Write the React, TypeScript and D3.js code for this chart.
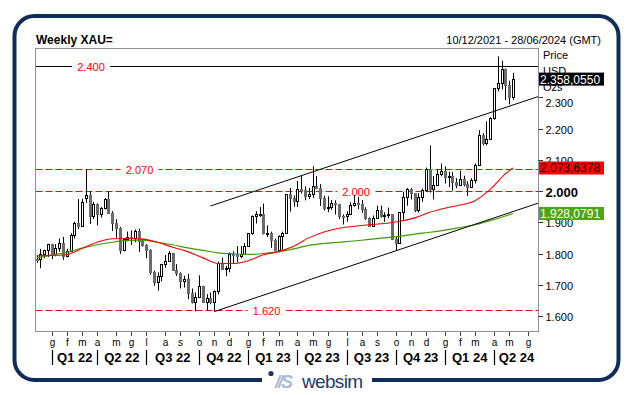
import * as d3 from "d3";
import { useEffect, useRef } from "react";

// weekly bars, one per Friday, from 10/12/2021; data stops at 10/05/2024
const firstWeek = new Date(2021, 11, 10);
const lastWeek = new Date(2024, 5, 28);

const opens = [
  1783, 1782, 1798, 1810, 1829, 1797, 1817, 1835, 1791, 1808,
  1859, 1898, 1889, 1977, 1986, 1921, 1958, 1925, 1945, 1975,
  1931, 1897, 1883, 1811, 1846, 1853, 1851, 1871, 1839, 1827,
  1811, 1742, 1708, 1727, 1766, 1775, 1802, 1747, 1737, 1712,
  1717, 1675, 1644, 1661, 1695, 1644, 1657, 1645, 1681, 1771,
  1751, 1755, 1798, 1797, 1793, 1798, 1824, 1865, 1920, 1926,
  1928, 1865, 1865, 1842, 1811, 1855, 1867, 1989, 1978, 1969,
  2008, 2004, 1983, 1990, 2017, 2011, 1977, 1946, 1948, 1961,
  1958, 1921, 1919, 1925, 1955, 1962, 1959, 1943, 1914, 1889,
  1915, 1940, 1919, 1924, 1925, 1848, 1833, 1932, 1981, 2006,
  1993, 1940, 1981, 2002, 2072, 2005, 2019, 2053, 2063, 2045,
  2049, 2029, 2018, 2040, 2024, 2013, 2035, 2083, 2178, 2155,
  2165, 2233, 2329, 2344, 2391, 2338, 2301,
];
const highs = [
  1793, 1815, 1812, 1831, 1831, 1830, 1848, 1853, 1815, 1865,
  1902, 1974, 1975, 2070, 1999, 1966, 1960, 1949, 1978, 1998,
  1935, 1910, 1885, 1849, 1870, 1874, 1877, 1879, 1847, 1830,
  1814, 1745, 1740, 1767, 1795, 1808, 1802, 1766, 1740, 1729,
  1735, 1688, 1675, 1730, 1697, 1670, 1675, 1682, 1774, 1787,
  1760, 1804, 1807, 1824, 1824, 1833, 1865, 1922, 1935, 1949,
  1960, 1890, 1870, 1848, 1858, 1870, 1990, 2010, 1986, 2032,
  2049, 2015, 2010, 2079, 2048, 2022, 1985, 1983, 1971, 1970,
  1959, 1925, 1935, 1964, 1987, 1982, 1971, 1948, 1916, 1922,
  1953, 1953, 1932, 1947, 1925, 1854, 1933, 1997, 2009, 2010,
  1993, 1993, 2008, 2075, 2146, 2048, 2070, 2088, 2079, 2062,
  2061, 2041, 2065, 2049, 2031, 2041, 2088, 2195, 2185, 2223,
  2236, 2330, 2431, 2417, 2392, 2353, 2378,
];
const lows = [
  1770, 1753, 1785, 1789, 1782, 1791, 1806, 1780, 1788, 1807,
  1848, 1878, 1888, 1962, 1895, 1910, 1890, 1915, 1941, 1931,
  1872, 1850, 1799, 1807, 1839, 1828, 1836, 1805, 1822, 1785,
  1732, 1697, 1681, 1711, 1754, 1773, 1745, 1728, 1688, 1691,
  1654, 1640, 1615, 1660, 1642, 1618, 1638, 1616, 1669, 1747,
  1728, 1740, 1766, 1773, 1785, 1797, 1824, 1860, 1896, 1917,
  1861, 1853, 1818, 1808, 1804, 1810, 1867, 1934, 1950, 1949,
  1992, 1970, 1975, 1978, 2006, 1952, 1937, 1932, 1940, 1925,
  1910, 1893, 1902, 1923, 1950, 1942, 1930, 1907, 1885, 1888,
  1913, 1915, 1901, 1913, 1846, 1810, 1833, 1908, 1953, 1973,
  1932, 1931, 1965, 1999, 1995, 1973, 2016, 2047, 2024, 2013,
  2001, 2009, 2016, 2015, 1984, 2011, 2024, 2083, 2146, 2146,
  2164, 2228, 2319, 2325, 2291, 2277, 2292,
];
const closes = [
  1782, 1798, 1810, 1829, 1797, 1817, 1835, 1791, 1808, 1859,
  1898, 1889, 1966, 1986, 1921, 1958, 1925, 1945, 1975, 1931,
  1897, 1883, 1811, 1846, 1853, 1851, 1871, 1839, 1827, 1811,
  1742, 1708, 1727, 1766, 1775, 1802, 1747, 1737, 1712, 1717,
  1675, 1644, 1661, 1695, 1644, 1657, 1645, 1681, 1771, 1751,
  1755, 1798, 1797, 1793, 1798, 1824, 1865, 1920, 1926, 1928,
  1865, 1865, 1842, 1811, 1855, 1867, 1989, 1978, 1969, 2008,
  2004, 1983, 1990, 2017, 2011, 1977, 1946, 1948, 1961, 1958,
  1921, 1919, 1925, 1955, 1962, 1959, 1943, 1914, 1889, 1915,
  1940, 1919, 1924, 1925, 1848, 1833, 1932, 1981, 2006, 1993,
  1940, 1981, 2002, 2072, 2005, 2019, 2053, 2063, 2045, 2049,
  2029, 2018, 2040, 2024, 2013, 2035, 2083, 2178, 2155, 2165,
  2233, 2329, 2344, 2391, 2338, 2301, 2358.055,
];

const maWeeks = [0, 4, 8, 12, 16, 20, 24, 28, 32, 36, 40, 44, 48, 52, 56, 60, 64, 68, 72, 76, 80, 84, 88, 92, 96, 100, 104, 108, 112, 116, 120, 124, 126];
const redMA = [1793, 1794, 1797, 1816, 1836, 1847, 1848, 1846, 1836, 1820, 1806, 1786, 1768, 1768, 1777, 1796, 1806, 1823, 1850, 1869, 1881, 1887, 1892, 1896, 1903, 1914, 1932, 1945, 1955, 1969, 2005, 2055, 2073.6378];
const greenMA = [1786, 1795, 1804, 1817, 1828, 1836, 1842, 1843, 1836, 1828, 1818, 1810, 1802, 1799, 1797, 1800, 1806, 1815, 1826, 1832, 1836, 1840, 1845, 1850, 1855, 1862, 1868, 1875, 1883, 1892, 1905, 1920, 1928.0791];

const priceTicks = [1600, 1700, 1800, 1900, 2000, 2100, 2200, 2300];
const levels = [2400, 2070, 2000, 1620];
const upperTrend: [number, number][] = [[46, 1952], [132.65, 2302]];
const lowerTrend: [number, number][] = [[47, 1614], [132.65, 1961]];
const monthLetters = ["g", "f", "m", "a", "m", "g", "l", "a", "s", "o", "n", "d"];

const FONT = "'Liberation Sans', Arial, sans-serif";

function App() {
  const svgRef = useRef<SVGSVGElement>(null);

  useEffect(() => {
    const svg = d3.select(svgRef.current);
    svg.selectAll("*").remove();

    const left = 35.5, right = 538.5, top = 48.5, bottom = 331.5;
    const weeks = d3.timeFriday.range(firstWeek, d3.timeDay.offset(lastWeek, 1));

    const x = d3.scaleLinear().domain([0, weeks.length - 1]).range([36.6, 539.3]);
    const y = d3.scaleLinear().domain([1600, 2400]).range([316, 66]);
    const it = d3.formatLocale({ decimal: ",", thousands: ".", grouping: [3], currency: ["", ""] });
    const fmt = it.format(",");
    const fmt4 = it.format(",.4f");

    svg.append("rect").attr("width", 633).attr("height", 395).attr("fill", "#fff");

    // outer frame
    svg.append("rect")
      .attr("x", 14.5).attr("y", 16).attr("width", 604).attr("height", 364).attr("rx", 20)
      .attr("fill", "none").attr("stroke", "#0f2d5a").attr("stroke-width", 4);
    svg.append("rect").attr("x", 262).attr("y", 375).attr("width", 110).attr("height", 10).attr("fill", "#fff");
    svg.append("circle").attr("cx", 271).attr("cy", 373.5).attr("r", 2.6).attr("fill", "#1b3866");
    svg.append("text").attr("x", 275).attr("y", 388).attr("font-family", FONT).attr("font-size", 18)
      .attr("font-style", "italic").attr("font-weight", "bold").attr("fill", "#a9bcd3")
      .attr("letter-spacing", -2).text("//S");
    svg.append("text").attr("x", 302).attr("y", 388).attr("font-family", FONT).attr("font-size", 19)
      .attr("fill", "#1e3a66").attr("textLength", 61).text("websim");

    // header
    svg.append("text").attr("x", 36).attr("y", 44).attr("font-family", FONT).attr("font-size", 12)
      .attr("font-weight", "bold").text("Weekly XAU=");
    svg.append("text").attr("x", 601).attr("y", 44).attr("font-family", FONT).attr("font-size", 11)
      .attr("text-anchor", "end").text("10/12/2021 - 28/06/2024 (GMT)");

    svg.append("defs").append("clipPath").attr("id", "plotClip")
      .append("rect").attr("x", left).attr("y", top).attr("width", right - left).attr("height", bottom - top);

    const plot = svg.append("g").attr("clip-path", "url(#plotClip)");

    // horizontal levels
    const labelX: Record<number, number> = { 2400: 91, 2070: 139.5, 2000: 356, 1620: 266.5 };
    levels.forEach((v) => {
      const ly = Math.round(y(v)) + 0.5;
      plot.append("line").attr("x1", left).attr("x2", right).attr("y1", ly).attr("y2", ly)
        .attr("stroke", v === 2400 ? "#000" : "#ff0000").attr("stroke-width", v === 2400 ? 1 : 1.2)
        .attr("stroke-dasharray", v === 2400 ? null : "7,3");
      plot.append("rect").attr("x", labelX[v] - 19).attr("y", ly - 6).attr("width", 38).attr("height", 12).attr("fill", "#fff");
      plot.append("text").attr("x", labelX[v]).attr("y", ly + 4).attr("text-anchor", "middle")
        .attr("font-family", FONT).attr("font-size", 11).attr("fill", "#ff0000").text(fmt(v));
    });

    // candles
    const candles = plot.append("g");
    closes.forEach((c, i) => {
      const o = opens[i];
      const cx = Math.round(x(i));
      candles.append("line").attr("x1", cx + 0.5).attr("x2", cx + 0.5)
        .attr("y1", y(highs[i])).attr("y2", y(lows[i])).attr("stroke", "#000");
      const yTop = Math.round(y(Math.max(o, c)));
      const yBot = Math.max(Math.round(y(Math.min(o, c))), yTop + 1);
      if (c >= o) {
        candles.append("rect").attr("x", cx - 0.5).attr("y", yTop + 0.5).attr("width", 2)
          .attr("height", yBot - yTop).attr("fill", "#fff").attr("stroke", "#000");
      } else {
        candles.append("rect").attr("x", cx - 1).attr("y", yTop).attr("width", 3)
          .attr("height", yBot - yTop + 1).attr("fill", "#6b6b6b");
      }
    });

    // moving averages
    const maLine = d3.line<number>().x((_, i) => x(maWeeks[i])).y((v) => y(v)).curve(d3.curveMonotoneX);
    plot.append("path").attr("d", maLine(greenMA)).attr("fill", "none").attr("stroke", "#3c9c00").attr("stroke-width", 1.2);
    plot.append("path").attr("d", maLine(redMA)).attr("fill", "none").attr("stroke", "#ff0000").attr("stroke-width", 1.1);

    // trend channel
    const trend = d3.line<[number, number]>().x((d) => x(d[0])).y((d) => y(d[1]));
    [upperTrend, lowerTrend].forEach((t) => {
      plot.append("path").attr("d", trend(t)).attr("fill", "none").attr("stroke", "#000").attr("stroke-width", 1);
    });

    // plot border
    svg.append("rect").attr("x", left).attr("y", top).attr("width", right - left).attr("height", bottom - top)
      .attr("fill", "none").attr("stroke", "#8e8e9c");

    // right axis
    svg.append("text").attr("x", 543).attr("y", 59).attr("font-family", FONT).attr("font-size", 11).text("Price");
    svg.append("text").attr("x", 543).attr("y", 75).attr("font-family", FONT).attr("font-size", 11).text("USD");
    svg.append("text").attr("x", 543).attr("y", 91).attr("font-family", FONT).attr("font-size", 11).text("Ozs");
    priceTicks.forEach((v) => {
      const ty = Math.round(y(v)) + 0.5;
      svg.append("line").attr("x1", right).attr("x2", 543).attr("y1", ty).attr("y2", ty).attr("stroke", "#333");
      const bold = v === 2000;
      svg.append("text").attr("x", 545.5).attr("y", ty + (bold ? 5 : 4) + (v === 2300 ? 5.5 : 0))
        .attr("font-family", FONT).attr("font-size", bold ? 13 : 11).attr("font-weight", bold ? "bold" : "normal")
        .text(fmt(v));
    });

    const tags: [number, string, string][] = [
      [closes[closes.length - 1], "#000", "#fff"],
      [redMA[redMA.length - 1], "#ff0000", "#000"],
      [greenMA[greenMA.length - 1], "#4ea60e", "#fff"],
    ];
    tags.forEach(([v, bg, fg]) => {
      svg.append("rect").attr("x", 539).attr("y", y(v) - 6.5).attr("width", 65).attr("height", 13).attr("fill", bg);
      svg.append("text").attr("x", 540).attr("y", y(v) + 4.5).attr("font-family", FONT).attr("font-size", 12)
        .attr("fill", fg).text(fmt4(v));
    });

    // bottom axis: first weekly bar of each month
    const monthStarts = weeks.map((d, i) => ({ d, i })).filter((w) => w.d.getDate() <= 7);
    monthStarts.forEach((w, k) => {
      const tx = Math.round(x(w.i)) + 0.5;
      const m = w.d.getMonth();
      svg.append("line").attr("x1", tx).attr("x2", tx).attr("y1", 332).attr("y2", 336).attr("stroke", "#444");
      svg.append("text").attr("x", tx).attr("y", 346).attr("text-anchor", "middle")
        .attr("font-family", FONT).attr("font-size", 10).text(monthLetters[m]);
      if (m % 3 === 0) {
        svg.append("line").attr("x1", tx).attr("x2", tx).attr("y1", 350).attr("y2", 365)
          .attr("stroke", "#000").attr("stroke-width", 1.2);
        const next = monthStarts.slice(k + 1).find((n) => n.d.getMonth() % 3 === 0);
        const endX = next ? x(next.i) : right;
        svg.append("text").attr("x", (tx + endX) / 2).attr("y", 362).attr("text-anchor", "middle")
          .attr("font-family", FONT).attr("font-size", 13).attr("font-weight", "bold")
          .text(`Q${m / 3 + 1} ${String(w.d.getFullYear()).slice(2)}`);
      }
    });
  }, []);

  return (
    <svg ref={svgRef} width={633} height={395} style={{ position: "absolute", left: 0, top: 0 }} />
  );
}

export default App;
